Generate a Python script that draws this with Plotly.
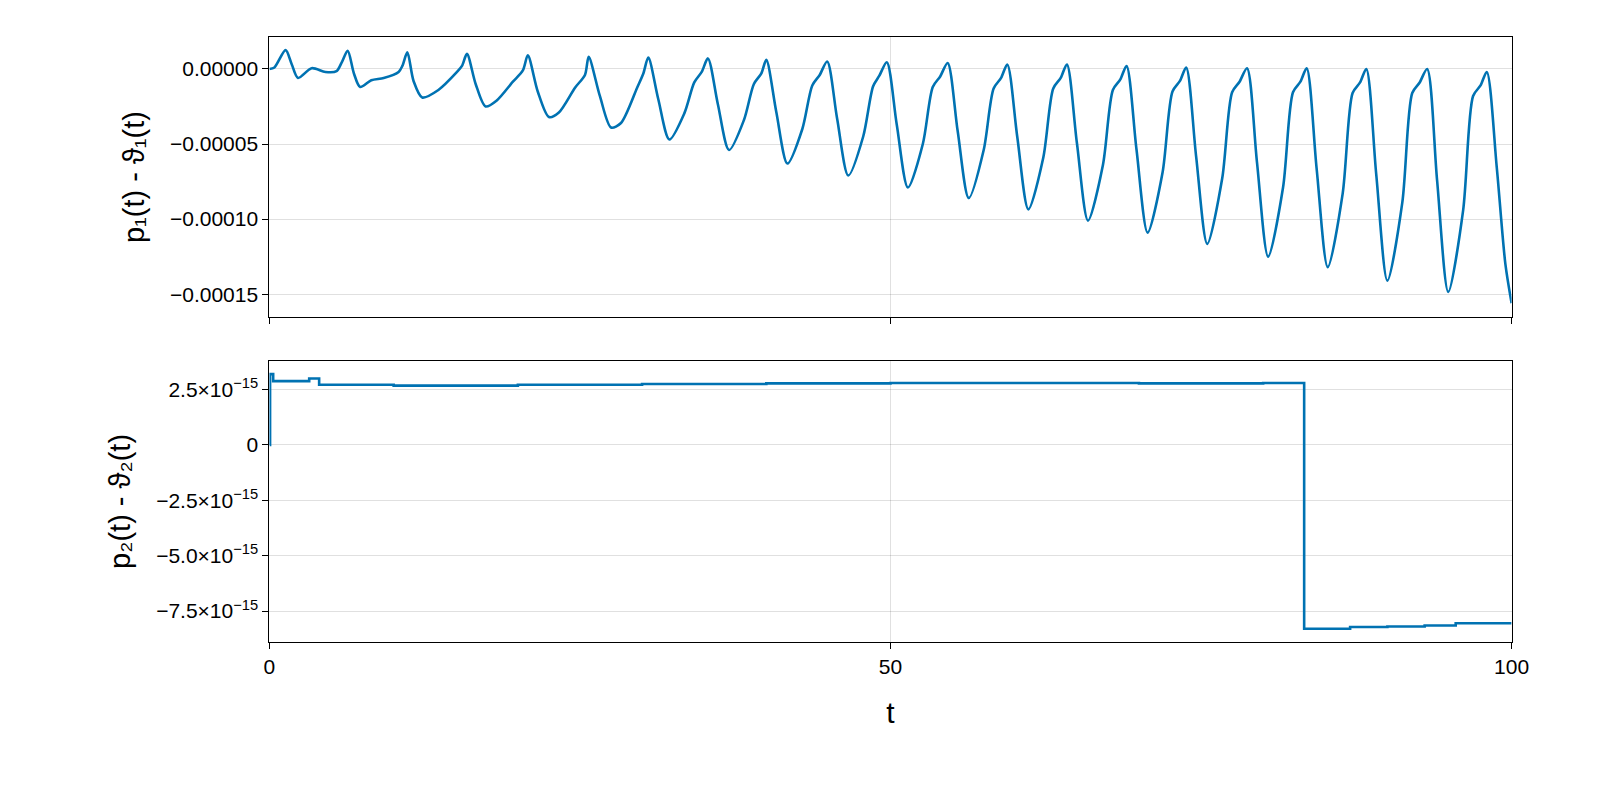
import plotly.graph_objects as go

# top panel: t and p1-theta1 (units of 1e-5)
t1 = [0,0.4,1.3,1.8,2.3,3.4,4.5,5.4,5.8,6.3,6.8,7.3,8.2,9.2,10.4,10.7,11.1,11.6,12.3,13.6,15.1,15.5,15.9,
      16.6,17.4,18.3,19.6,20.4,20.8,21.6,22.5,23.3,24.6,25.4,25.7,26.6,27.5,28.3,29.6,30.1,30.5,
      31.3,32.2,33.4,34.2,34.8,35.3,
      36.1,37.0,38.2,39.0,39.6,40.0,
      40.8,41.7,42.9,43.7,44.3,44.9,
      45.7,46.6,47.8,48.6,49.1,49.7,
      50.5,51.4,52.6,53.4,54.0,54.6,
      55.4,56.3,57.5,58.3,58.9,59.4,
      60.2,61.1,62.3,63.1,63.7,64.2,
      65.0,65.9,67.1,67.9,68.5,69.0,
      69.8,70.7,71.9,72.7,73.3,73.8,
      74.6,75.5,76.7,77.5,78.1,78.7,
      79.5,80.4,81.6,82.4,83.0,83.5,
      84.3,85.2,86.4,87.2,87.8,88.3,
      89.1,90.0,91.2,92.0,92.6,93.2,
      94.0,94.9,96.1,96.9,97.5,98.0,
      98.8,99.5,100]
v1 = [0,0.1,1.25,0.3,-0.6,0.05,-0.2,-0.15,0.4,1.2,-0.3,-1.2,-0.75,-0.6,-0.2,0.2,1.1,-0.8,-1.9,-1.4,-0.2,0.2,1.0,
      -1.0,-2.5,-2.1,-0.85,-0.1,0.9,-1.5,-3.2,-2.9,-1.25,-0.4,0.8,-1.8,-3.9,-3.6,-1.25,-0.3,0.75,
      -2.0,-4.7,-2.96,-0.9,-0.2,0.7,
      -2.35,-5.4,-3.4,-1.0,-0.3,0.6,
      -2.85,-6.3,-4.0,-1.1,-0.4,0.5,
      -3.3,-7.1,-4.5,-1.15,-0.45,0.45,
      -3.7,-7.9,-5.0,-1.2,-0.5,0.4,
      -4.1,-8.6,-5.4,-1.3,-0.6,0.3,
      -4.5,-9.35,-5.9,-1.3,-0.6,0.3,
      -4.9,-10.1,-6.4,-1.4,-0.7,0.2,
      -5.35,-10.9,-6.9,-1.5,-0.8,0.1,
      -5.8,-11.65,-7.3,-1.55,-0.85,0.05,
      -6.2,-12.5,-7.9,-1.55,-0.85,0.05,
      -6.6,-13.2,-8.3,-1.6,-0.9,0.0,
      -7.0,-14.1,-8.9,-1.6,-0.9,0.0,
      -7.4,-14.85,-9.4,-1.8,-1.1,-0.2,
      -6.5,-13.0,-15.6]

# bottom panel: t and p2-theta2 (units of 1e-15)
t2 = [0,0.05,0.3,3.2,4.0,10,20,30,40,50,60,70,80,83.3,87,90,93,95.5,100]
v2 = [0,3.2,2.88,3.0,2.72,2.68,2.72,2.75,2.78,2.8,2.8,2.78,2.8,-8.3,-8.22,-8.2,-8.15,-8.05,-8.05]

top_tickvals = [0, -5e-5, -10e-5, -15e-5]
top_ticktext = ["0.00000", "−0.00005", "−0.00010", "−0.00015"]
bot_tickvals = [2.5e-15, 0, -2.5e-15, -5e-15, -7.5e-15]
bot_ticktext = ["2.5×10<sup>−15</sup>", "0", "−2.5×10<sup>−15</sup>", "−5.0×10<sup>−15</sup>", "−7.5×10<sup>−15</sup>"]
x_ticks = [0, 50, 100]

color = "#0072B2"
fig = go.Figure()
fig.add_trace(go.Scatter(x=t1, y=[v*1e-5 for v in v1], mode="lines",
                         line=dict(color=color, width=2.6, shape="spline", smoothing=0.8),
                         xaxis="x", yaxis="y"))
fig.add_trace(go.Scatter(x=t2, y=[v*1e-15 for v in v2], mode="lines",
                         line=dict(color=color, width=2.6, shape="hv"),
                         xaxis="x2", yaxis="y2"))

font = dict(family="Liberation Sans, Arial, sans-serif", size=21, color="black")
axcommon = dict(showline=True, linecolor="black", linewidth=1.2, mirror=True,
                gridcolor="rgba(0,0,0,0.12)", gridwidth=1, zeroline=False,
                ticks="outside", ticklen=6, tickcolor="black")
fig.update_layout(
    autosize=True, paper_bgcolor="white", plot_bgcolor="white",
    margin=dict(l=0, r=0, t=0, b=0), showlegend=False, font=font,
    xaxis=dict(domain=[0.16375, 0.96], range=[0, 100], tickvals=x_ticks, showticklabels=False,
               anchor="y", **axcommon),
    yaxis=dict(domain=[0.60625, 0.9625], range=[-16.5e-5, 2.1e-5], tickvals=top_tickvals,
               ticktext=top_ticktext, anchor="x",
               title=dict(text="p₁(t) - ϑ₁(t)", font=dict(size=29), standoff=16), **axcommon),
    xaxis2=dict(domain=[0.16375, 0.96], range=[0, 100], tickvals=x_ticks, anchor="y2",
                title=dict(text="t", font=dict(size=30), standoff=24), **axcommon),
    yaxis2=dict(domain=[0.19125, 0.55], range=[-8.9e-15, 3.8e-15], tickvals=bot_tickvals,
                ticktext=bot_ticktext, anchor="x2",
                title=dict(text="p₂(t) - ϑ₂(t)", font=dict(size=29), standoff=16), **axcommon),
)
fig.write_html("out.html", default_width="100%", default_height="100%",
               config={"responsive": True})
